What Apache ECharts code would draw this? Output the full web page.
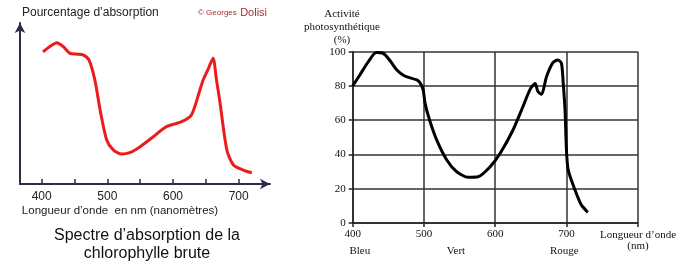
<!DOCTYPE html>
<html>
<head>
<meta charset="utf-8">
<script src="https://cdn.jsdelivr.net/npm/echarts@6/dist/echarts.min.js"></script>
<style>html,body{margin:0;padding:0;background:#fff}#c{width:679px;height:266px}</style>
</head>
<body>
<div id="c"></div>
<script>
// Left chart: absorption spectrum of raw chlorophyll (arbitrary units, no y labels)
var absWavelength = [402,412,423,433,443,455,463,472,481,489,499,509,522,534,550,570,590,613,628,641,646,653,661,666,671,682,692,707,720];
var absValue      = [88,91.5,94.2,91.5,87.1,86.5,86,82.7,69.3,49.3,29.3,22.7,20,20.9,24.9,31.5,38.2,41.5,46,62.7,69.5,76,83.8,70,56,22.7,12.7,9.3,7.5];
var absTickValues = [400,450,500,550,600,650,700];
var absTickLabels = [400,500,600,700];

// Right chart: photosynthetic activity (%)
var photoWavelength = [400,410,422,433,443,452,462,473,490,495,499,501.5,508,518,532,546,562,576,593,607,625,639,649,656,660,665,672,681,688,693,695.5,698,700,702.5,712,721,730];
var photoValue      = [80,86.4,94.2,99.5,99,95,89.3,85.8,83.5,81.5,77.6,70,60,48.4,36.8,29.9,26.7,27,32.9,40.7,54.3,68,78,81.5,76.7,75.1,85.4,93.6,95.2,93.2,81.5,66,42.6,30.9,19.3,10.5,6.2];
var photoTickLabels = [400,500,600,700];
var colourNames = ['Bleu','Vert','Rouge'];
var colourNameWl = [410,545,697];

function pairs(xs, ys){ return xs.map(function(x,i){ return [x, ys[i]]; }); }

var chart = echarts.init(document.getElementById('c'), null, {renderer:'canvas'});
var sans = 'Liberation Sans, Arial, sans-serif';
var serif = 'Liberation Serif, Times New Roman, serif';
var axisNavy = '#2b2d4a';

var option = {
  animation: false,
  backgroundColor: '#fff',
  grid: [
    {left: 20, top: 23, width: 250, height: 161},
    {left: 352.7, top: 51.7, width: 285, height: 171.3}
  ],
  xAxis: [
    {
      gridIndex: 0, type: 'value', min: 367, max: 747.7,
      axisLine: {show: true, symbol: ['none','arrow'], symbolSize: [8,10], lineStyle: {color: axisNavy, width: 2}},
      axisTick: {show: true, inside: true, length: 5, customValues: absTickValues, lineStyle: {color: axisNavy, width: 1.5}},
      axisLabel: {show: true, margin: 7, customValues: absTickLabels, color: '#222', fontFamily: sans, fontSize: 12},
      splitLine: {show: false}
    },
    {
      gridIndex: 1, type: 'value', min: 400, max: 800, interval: 100,
      axisLine: {show: true, lineStyle: {color: '#222', width: 1.5}},
      axisTick: {show: true, length: 4, lineStyle: {color: '#222', width: 1.5}},
      axisLabel: {show: true, margin: 6, customValues: photoTickLabels, color: '#111', fontFamily: serif, fontSize: 11},
      splitLine: {show: true, lineStyle: {color: '#333', width: 1.5}}
    }
  ],
  yAxis: [
    {
      gridIndex: 0, type: 'value', min: 0, max: 107.3,
      axisLine: {show: true, symbol: ['none','arrow'], symbolSize: [8,10], lineStyle: {color: axisNavy, width: 2}},
      axisTick: {show: false}, axisLabel: {show: false}, splitLine: {show: false}
    },
    {
      gridIndex: 1, type: 'value', min: 0, max: 100, interval: 20,
      axisLine: {show: true, lineStyle: {color: '#222', width: 1.5}},
      axisTick: {show: true, length: 4, lineStyle: {color: '#222', width: 1.5}},
      axisLabel: {show: true, margin: 7, color: '#111', fontFamily: serif, fontSize: 11},
      splitLine: {show: true, lineStyle: {color: '#333', width: 1.5}}
    }
  ],
  series: [
    {
      type: 'line', xAxisIndex: 0, yAxisIndex: 0, data: pairs(absWavelength, absValue),
      smooth: 0.25, showSymbol: false, lineStyle: {color: '#ec1c1c', width: 3}
    },
    {
      type: 'line', xAxisIndex: 1, yAxisIndex: 1, data: pairs(photoWavelength, photoValue),
      smooth: 0.25, showSymbol: false, lineStyle: {color: '#000', width: 3}
    }
  ],
  graphic: [
    {type: 'text', left: 22, top: 7, style: {text: 'Pourcentage d\u2019absorption', font: '12px ' + sans, fill: '#222'}},
    {type: 'text', left: 198, top: 7, style: {
      text: '{s|\u00a9 Georges} {b|Dolisi}',
      rich: {s: {fontSize: 8, fontFamily: sans, fill: '#a8302f', color: '#a8302f'}, b: {fontSize: 11, fontFamily: sans, fill: '#a8302f', color: '#a8302f'}},
      fill: '#a8302f'
    }},
    {type: 'text', x: 120, y: 211, style: {text: 'Longueur d\u2019onde  en nm (nanom\u00e8tres)', font: '11.5px ' + sans, fill: '#222', textAlign: 'center', textVerticalAlign: 'middle'}},
    {type: 'text', x: 147, y: 236, style: {text: 'Spectre d\u2019absorption de la', font: '16px ' + sans, fill: '#111', textAlign: 'center', textVerticalAlign: 'middle'}},
    {type: 'text', x: 147, y: 254, style: {text: 'chlorophylle brute', font: '16px ' + sans, fill: '#111', textAlign: 'center', textVerticalAlign: 'middle'}},
    {type: 'text', x: 342, y: 14, style: {text: 'Activit\u00e9', font: '11px ' + serif, fill: '#111', textAlign: 'center', textVerticalAlign: 'middle'}},
    {type: 'text', x: 342, y: 27, style: {text: 'photosynth\u00e9tique', font: '11px ' + serif, fill: '#111', textAlign: 'center', textVerticalAlign: 'middle'}},
    {type: 'text', x: 342, y: 40, style: {text: '(%)', font: '11px ' + serif, fill: '#111', textAlign: 'center', textVerticalAlign: 'middle'}},
    {type: 'text', x: 638, y: 235, style: {text: 'Longueur d\u2019onde', font: '11px ' + serif, fill: '#111', textAlign: 'center', textVerticalAlign: 'middle'}},
    {type: 'text', x: 638, y: 246.5, style: {text: '(nm)', font: '11px ' + serif, fill: '#111', textAlign: 'center', textVerticalAlign: 'middle'}}
  ]
};
chart.setOption(option);

// colour names under the right axis, placed through the axis scale
var extra = colourNames.map(function(name, i){
  var p = chart.convertToPixel({xAxisIndex: 1, yAxisIndex: 1}, [colourNameWl[i], 0]);
  return {type: 'text', x: p[0], y: 251, style: {text: name, font: '11px ' + serif, fill: '#111', textAlign: 'center', textVerticalAlign: 'middle'}};
});
chart.setOption({graphic: option.graphic.concat(extra)});
</script>
</body>
</html>
